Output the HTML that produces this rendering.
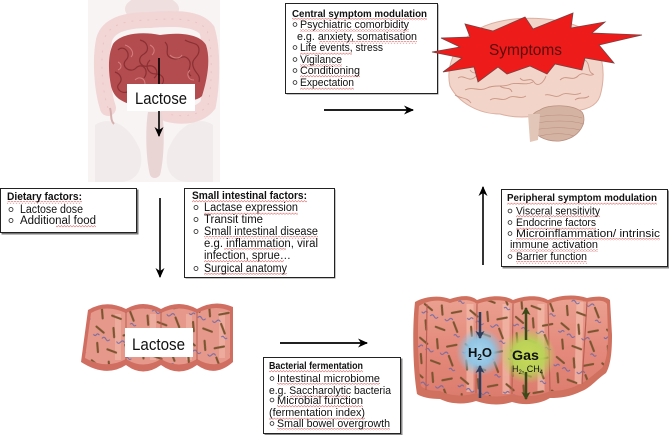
<!DOCTYPE html>
<html><head><meta charset="utf-8"><style>
html,body{margin:0;padding:0;background:#fff;}
svg{display:block;}
text{font-family:"Liberation Sans",Arial,sans-serif;fill:#111;}
</style></head><body>
<svg width="669" height="435" viewBox="0 0 669 435" xmlns="http://www.w3.org/2000/svg">
<defs>
<marker id="ah" markerUnits="userSpaceOnUse" markerWidth="11" markerHeight="9" refX="9" refY="4.5" orient="auto">
<path d="M0,0 L10,4.5 L0,9 L3,4.5 z" fill="#000"/>
</marker>
<marker id="ahb" markerUnits="userSpaceOnUse" markerWidth="9" markerHeight="9" refX="7" refY="4.5" orient="auto">
<path d="M0,0 L8,4.5 L0,9 L2,4.5 z" fill="#2f3d5c"/>
</marker>
<marker id="ahg" markerUnits="userSpaceOnUse" markerWidth="9" markerHeight="9" refX="7" refY="4.5" orient="auto">
<path d="M0,0 L8,4.5 L0,9 L2,4.5 z" fill="#3c4a1a"/>
</marker>
<pattern id="wv" width="3" height="2.5" patternUnits="userSpaceOnUse">
<path d="M0,2 L1.5,0.5 L3,2" stroke="#e06a6a" stroke-width="0.6" fill="none"/>
</pattern>
<pattern id="bac" width="46" height="34" patternUnits="userSpaceOnUse" patternTransform="rotate(8)">
<g stroke="#7a5530" stroke-width="2.1" stroke-linecap="round">
<line x1="3" y1="4" x2="11" y2="9"/>
<line x1="20" y1="3" x2="22" y2="12"/>
<line x1="31" y1="9" x2="40" y2="6"/>
<line x1="6" y1="20" x2="8" y2="29"/>
<line x1="17" y1="25" x2="26" y2="27"/>
<line x1="34" y1="18" x2="39" y2="27"/>
</g>
<g stroke="#6a68a6" stroke-width="1" fill="none">
<path d="M10 15 q2 -3 4 0 t4 0"/>
<path d="M25 16 q2 3 4 0 t4 0"/>
<path d="M36 31 q1.5 -2 3 0 t3 0"/>
<path d="M1 12 q2 2 3 0 t3 0"/>
</g>
</pattern>
<radialGradient id="gb"><stop offset="0" stop-color="#a6d6f0"/><stop offset="0.55" stop-color="#8ec6e6" stop-opacity="0.95"/><stop offset="1" stop-color="#8ec6e6" stop-opacity="0"/></radialGradient>
<radialGradient id="gg"><stop offset="0" stop-color="#c8dc58"/><stop offset="0.55" stop-color="#b8d456" stop-opacity="0.95"/><stop offset="1" stop-color="#b8d456" stop-opacity="0"/></radialGradient>
<linearGradient id="colTop" x1="0" y1="0" x2="0" y2="1"><stop offset="0" stop-color="#eba090"/><stop offset="0.5" stop-color="#e48a7c"/><stop offset="1" stop-color="#dc7c6e"/></linearGradient>
</defs>

<!-- ===== Anatomy (top-left) ===== -->
<rect x="88" y="0" width="132" height="182" fill="#f8f4f4"/>
<path d="M95,125 C110,115 130,125 140,150 C145,170 135,182 120,182 L95,182 Z" fill="#f1ebeb"/>
<path d="M213,125 C198,115 178,125 168,150 C163,170 173,182 188,182 L213,182 Z" fill="#f1ebeb"/>
<ellipse cx="152" cy="9" rx="27" ry="14" fill="#efdfdf"/>
<path d="M108,108 C102,90 100,60 104,40 C108,25 125,20 150,20 C175,18 198,18 207,30 C213,50 212,85 208,105 C200,115 185,118 168,114" fill="none" stroke="#f2d6d6" stroke-width="16" stroke-linecap="round"/>
<path d="M108,108 C102,90 100,60 104,40 C108,25 125,20 150,20 C175,18 198,18 207,30 C213,50 212,85 208,105 C200,115 185,118 168,114" fill="none" stroke="#e8c4c4" stroke-width="1" stroke-dasharray="2 6"/>
<path d="M110,108 C112,115 110,120 114,124" fill="none" stroke="#d7b0b0" stroke-width="2"/>
<path d="M148,112 L162,112 C165,130 164,160 160,175 C157,179 152,179 150,175 C146,160 145,130 148,112 Z" fill="#ead5d5"/>
<path d="M113,44 C120,34 140,31 160,35 C180,32 200,34 206,45 C211,60 207,80 202,96 C196,102 186,99 180,104 L132,105 C121,101 114,98 111,86 C108,70 108,55 113,44 Z" fill="#b24c4e"/>
<g fill="none" stroke="#8a3034" stroke-width="1.2">
<path d="M118,50 c6,-6 14,4 8,10 c-6,6 4,14 10,8 c6,-6 14,2 8,10"/>
<path d="M140,40 c8,2 10,10 4,14 c-8,4 -4,14 4,12 c8,-2 12,8 6,12"/>
<path d="M165,42 c6,6 -2,12 6,16 c8,4 12,-6 18,2 c4,6 -4,12 2,16"/>
<path d="M185,40 c6,4 14,2 14,10 c0,8 -8,8 -6,16 c2,8 8,8 6,16"/>
<path d="M115,72 c6,2 8,8 4,12 c-4,4 2,10 8,8"/>
<path d="M150,60 c-6,6 -2,14 6,14 c8,0 10,8 4,12"/>
</g>
<g fill="none" stroke="#d47c7e" stroke-width="1">
<path d="M125,45 c6,2 10,8 6,12"/>
<path d="M170,55 c4,4 10,4 12,0"/>
<path d="M135,80 c4,-4 10,-2 10,4"/>
<path d="M190,70 c-4,4 -2,10 4,10"/>
<path d="M150,45 c4,2 6,6 2,10"/>
<path d="M118,62 c4,2 4,6 0,8"/>
</g>
<line x1="159" y1="58" x2="159" y2="136" stroke="#000" stroke-width="1.6" marker-end="url(#ah)"/>
<rect x="127" y="84" width="68" height="27" fill="#fff"/>
<text x="135" y="104" font-size="17" textLength="52" lengthAdjust="spacingAndGlyphs">Lactose</text>

<!-- ===== Central box ===== -->
<rect x="286.5" y="4.5" width="152" height="90" fill="#888"/>
<rect x="285.5" y="3.5" width="152" height="90" fill="#fff" stroke="#222" stroke-width="1"/>
<g fill="url(#wv)">
<rect x="292" y="18" width="135" height="2.5"/>
<rect x="300" y="29" width="109" height="2.5"/>
<rect x="319" y="41" width="98" height="2.5"/>
<rect x="300" y="52" width="52" height="2.5"/>
<rect x="300" y="64" width="42" height="2.5"/>
<rect x="300" y="75" width="60" height="2.5"/>
<rect x="300" y="87" width="54" height="2.5"/>
</g>
<text x="292" y="17" font-size="10.5" font-weight="bold" textLength="135" lengthAdjust="spacingAndGlyphs">Central symptom modulation</text>
<g fill="none" stroke="#222" stroke-width="0.8">
<circle cx="295" cy="24.5" r="1.9"/><circle cx="295" cy="47.5" r="1.9"/><circle cx="295" cy="59.5" r="1.9"/><circle cx="295" cy="70.5" r="1.9"/><circle cx="295" cy="82.5" r="1.9"/>
</g>
<g font-size="11">
<text x="300" y="28" textLength="109" lengthAdjust="spacingAndGlyphs">Psychiatric comorbidity</text>
<text x="297" y="40" textLength="120" lengthAdjust="spacingAndGlyphs">e.g. anxiety, somatisation</text>
<text x="300" y="51" textLength="83" lengthAdjust="spacingAndGlyphs">Life events, stress</text>
<text x="300" y="63" textLength="42" lengthAdjust="spacingAndGlyphs">Vigilance</text>
<text x="300" y="74" textLength="60" lengthAdjust="spacingAndGlyphs">Conditioning</text>
<text x="300" y="86" textLength="54" lengthAdjust="spacingAndGlyphs">Expectation</text>
</g>
<line x1="324" y1="110" x2="413" y2="110" stroke="#000" stroke-width="1.8" marker-end="url(#ah)"/>

<!-- ===== Brain + Symptoms ===== -->
<path d="M450,86 C444,60 462,30 497,22 C525,15 565,18 585,30 C602,44 607,72 600,96 C596,108 582,112 562,111 C540,116 520,120 500,114 C478,114 458,102 450,86 Z" fill="#f2d5c8" stroke="#dcaea0" stroke-width="1"/>
<path d="M540,110 C548,104 572,104 582,112 C588,122 580,138 560,141 C545,142 533,135 530,124 C530,116 534,112 540,110 Z" fill="#d5b3a3" stroke="#b89080" stroke-width="0.8"/>
<g fill="none" stroke="#b48c7c" stroke-width="0.6">
<path d="M534,118 C550,114 570,114 582,118"/><path d="M532,124 C550,120 570,120 584,124"/><path d="M534,130 C550,127 568,127 580,130"/><path d="M540,136 C552,133 565,133 574,136"/>
</g>
<path d="M528,114 L540,114 L538,140 L530,142 Z" fill="#e2c6b8"/>
<g fill="none" stroke="#c99585" stroke-width="0.9">
<path d="M465,90 c8,-4 14,2 22,-2 c8,-4 16,0 24,-4 c8,-2 14,2 22,-2"/>
<path d="M458,78 c6,-4 10,4 16,0 c6,-4 4,-10 10,-10"/>
<path d="M490,100 c6,-4 12,2 18,-2 c6,-4 12,2 18,-2"/>
<path d="M470,70 c4,6 12,2 14,-6 c2,-6 10,-4 10,2"/>
<path d="M560,80 c6,-6 12,2 18,-4 c6,-6 10,2 16,-2"/>
<path d="M545,95 c6,-2 10,4 16,0 c6,-4 12,2 20,-2"/>
<path d="M520,78 c4,6 10,-2 14,4 c4,6 10,0 12,-6"/>
<path d="M585,60 c6,4 2,12 8,14"/>
<path d="M455,95 c6,4 12,2 16,8"/>
<path d="M500,86 c4,4 10,0 12,6"/>
<path d="M575,100 c4,-4 10,0 14,-4"/>
</g>
<polygon points="432,52 460,47 441,38 470,37 465,24 493,31 525,17 533,29 573,13 571,28 605,22 592,33 642,35 599,45 614,63 585,58 582,70 555,64 547,74 530,66 507,74 498,67 478,82 474,67 443,72 462,58" fill="#ee1b1b" stroke="#7a4040" stroke-width="0.8"/>
<text x="489" y="55" font-size="16" style="fill:#5a0c0c" textLength="73" lengthAdjust="spacingAndGlyphs">Symptoms</text>

<!-- ===== Dietary box ===== -->
<rect x="1.5" y="189.5" width="137" height="45" fill="#777"/>
<rect x="0.5" y="188.5" width="136" height="44" fill="#fff" stroke="#222" stroke-width="1"/>
<g fill="url(#wv)">
<rect x="7" y="201" width="75" height="2.5"/>
<rect x="56" y="225" width="40" height="2.5"/>
</g>
<text x="7" y="200" font-size="11" font-weight="bold" textLength="75" lengthAdjust="spacingAndGlyphs">Dietary factors:</text>
<g fill="none" stroke="#222" stroke-width="0.8"><circle cx="11" cy="209.5" r="2"/><circle cx="11" cy="220.5" r="2"/></g>
<text x="20" y="213" font-size="11.5" textLength="63" lengthAdjust="spacingAndGlyphs">Lactose dose</text>
<text x="20" y="224" font-size="11.5" textLength="76" lengthAdjust="spacingAndGlyphs">Additional food</text>

<line x1="160" y1="198" x2="160" y2="277" stroke="#000" stroke-width="1.6" marker-end="url(#ah)"/>

<!-- ===== Small intestinal box ===== -->
<rect x="185.5" y="189.5" width="150" height="89" fill="#888"/>
<rect x="184.5" y="188.5" width="150" height="89" fill="#fff" stroke="#222" stroke-width="1"/>
<g fill="url(#wv)">
<rect x="192" y="200" width="115" height="2.5"/>
<rect x="204" y="212" width="94" height="2.5"/>
<rect x="204" y="236" width="114" height="2.5"/>
<rect x="224" y="248" width="62" height="2.5"/>
<rect x="204" y="260" width="80" height="2.5"/>
<rect x="204" y="273" width="83" height="2.5"/>
</g>
<text x="192" y="199" font-size="11" font-weight="bold" textLength="115" lengthAdjust="spacingAndGlyphs">Small intestinal factors:</text>
<g fill="none" stroke="#222" stroke-width="0.8"><circle cx="196" cy="207.5" r="2"/><circle cx="196" cy="219.5" r="2"/><circle cx="196" cy="231.5" r="2"/><circle cx="196" cy="268.5" r="2"/></g>
<g font-size="11.5">
<text x="204" y="211" textLength="94" lengthAdjust="spacingAndGlyphs">Lactase expression</text>
<text x="204" y="223" textLength="59" lengthAdjust="spacingAndGlyphs">Transit time</text>
<text x="204" y="235" textLength="114" lengthAdjust="spacingAndGlyphs">Small intestinal disease</text>
<text x="204" y="247" textLength="114" lengthAdjust="spacingAndGlyphs">e.g. inflammation, viral</text>
<text x="204" y="259" textLength="87" lengthAdjust="spacingAndGlyphs">infection, sprue…</text>
<text x="204" y="272" textLength="83" lengthAdjust="spacingAndGlyphs">Surgical anatomy</text>
</g>

<!-- ===== Peripheral box ===== -->
<line x1="483" y1="265" x2="483" y2="187" stroke="#000" stroke-width="1.6" marker-end="url(#ah)"/>
<rect x="502.5" y="190.5" width="167" height="78" fill="#888"/>
<rect x="501.5" y="189.5" width="166" height="77" fill="#fff" stroke="#222" stroke-width="1"/>
<g fill="url(#wv)">
<rect x="507" y="202" width="150" height="2.5"/>
<rect x="516" y="215" width="84" height="2.5"/>
<rect x="516" y="227" width="80" height="2.5"/>
<rect x="516" y="238" width="144" height="2.5"/>
<rect x="510" y="249" width="88" height="2.5"/>
<rect x="516" y="261" width="71" height="2.5"/>
</g>
<text x="507" y="201" font-size="10.5" font-weight="bold" textLength="150" lengthAdjust="spacingAndGlyphs">Peripheral symptom modulation</text>
<g fill="none" stroke="#222" stroke-width="0.8"><circle cx="510" cy="211" r="1.9"/><circle cx="510" cy="222.5" r="1.9"/><circle cx="510" cy="233.5" r="1.9"/><circle cx="510" cy="256.5" r="1.9"/></g>
<g font-size="11">
<text x="516" y="214.5" textLength="84" lengthAdjust="spacingAndGlyphs">Visceral sensitivity</text>
<text x="516" y="226" textLength="80" lengthAdjust="spacingAndGlyphs">Endocrine factors</text>
<text x="516" y="237" textLength="144" lengthAdjust="spacingAndGlyphs">Microinflammation/ intrinsic</text>
<text x="510" y="248" textLength="88" lengthAdjust="spacingAndGlyphs">immune activation</text>
<text x="516" y="260" textLength="71" lengthAdjust="spacingAndGlyphs">Barrier function</text>
</g>

<!-- ===== Small intestine with lactose (bottom-left) ===== -->
<path d="M88,310 Q106,299 126,309 Q143,299 161,309 Q179,299 197,309 Q215,299 233,307 L233,362 Q215,378 197,365 Q179,378 161,365 Q143,378 126,365 Q106,378 81,362 Z" fill="#d06e62"/>
<path d="M91,313 Q106,304 126,313 Q143,304 161,313 Q179,304 197,313 Q215,304 230,311 L230,358 Q215,370 197,359 Q179,370 161,359 Q143,370 126,359 Q106,370 85,358 Z" fill="#e6988a"/>
<g fill="none" stroke="#f2b8aa" stroke-width="6" opacity="0.6">
<path d="M118,314 L118,360"/><path d="M153,314 L153,360"/><path d="M189,314 L189,360"/><path d="M222,312 L222,358"/>
</g>
<path d="M91,313 Q106,304 126,313 Q143,304 161,313 Q179,304 197,313 Q215,304 230,311 L230,358 Q215,370 197,359 Q179,370 161,359 Q143,370 126,359 Q106,370 85,358 Z" fill="url(#bac)"/>
<g fill="none" stroke="#b85e52" stroke-width="1">
<path d="M126,312 L126,360"/><path d="M161,312 L161,360"/><path d="M197,312 L197,360"/>
</g>
<rect x="125" y="328" width="68" height="29" fill="#fff"/>
<text x="132" y="350" font-size="17" textLength="53" lengthAdjust="spacingAndGlyphs">Lactose</text>

<line x1="280" y1="343" x2="367" y2="343" stroke="#000" stroke-width="1.8" marker-end="url(#ah)"/>

<!-- ===== Bacterial box ===== -->
<rect x="264.5" y="358.5" width="138" height="77" fill="#888"/>
<rect x="263.5" y="357.5" width="137" height="76" fill="#fff" stroke="#222" stroke-width="1"/>
<g fill="url(#wv)">
<rect x="269" y="370" width="94" height="2.5"/>
<rect x="277" y="383" width="103" height="2.5"/>
<rect x="290" y="395" width="58" height="2.5"/>
<rect x="277" y="405" width="86" height="2.5"/>
<rect x="269" y="417" width="96" height="2.5"/>
<rect x="277" y="428" width="113" height="2.5"/>
</g>
<text x="269" y="369" font-size="10.5" font-weight="bold" textLength="94" lengthAdjust="spacingAndGlyphs">Bacterial fermentation</text>
<g fill="none" stroke="#222" stroke-width="0.8"><circle cx="272" cy="378.5" r="1.9"/><circle cx="272" cy="400" r="1.9"/><circle cx="272" cy="423.5" r="1.9"/></g>
<g font-size="11">
<text x="277" y="382" textLength="103" lengthAdjust="spacingAndGlyphs">Intestinal microbiome</text>
<text x="269" y="394" textLength="122" lengthAdjust="spacingAndGlyphs">e.g. Saccharolytic bacteria</text>
<text x="277" y="404" textLength="86" lengthAdjust="spacingAndGlyphs">Microbial function</text>
<text x="269" y="416" textLength="96" lengthAdjust="spacingAndGlyphs">(fermentation index)</text>
<text x="277" y="427" textLength="113" lengthAdjust="spacingAndGlyphs">Small bowel overgrowth</text>
</g>

<!-- ===== Colon with gas (bottom-right) ===== -->
<path d="M415,302 C425,296 440,295 450,299 C462,295 471,295 477,300 C490,295 505,295 513,300 C525,295 540,295 548,300 C560,295 575,294 587,298 C597,296 605,296 610,300 L612,335 C612,355 610,366 606,373 C596,380 590,388 582,391 C570,397 560,398 550,398 C540,404 525,406 512,402 C500,406 488,405 476,401 C464,405 450,404 440,399 C430,399 421,397 417,394 C413,370 412,330 415,302 Z" fill="#d0705f"/>
<path d="M419,306 C428,300 440,299 450,303 C462,299 471,299 477,304 C490,299 505,299 513,304 C525,299 540,299 548,304 C560,299 575,298 587,302 C597,300 604,300 607,304 L608,335 C608,352 606,362 602,368 C593,375 586,382 578,385 C568,390 558,391 550,391 C540,396 525,398 512,394 C500,398 488,397 476,393 C464,397 450,396 440,391 C430,391 424,389 421,386 C418,365 417,330 419,306 Z" fill="url(#colTop)"/>
<g fill="none" stroke="#f4bcac" stroke-width="7" opacity="0.7">
<path d="M470,304 L470,392"/><path d="M506,304 L506,394"/><path d="M541,304 L541,391"/><path d="M580,302 L578,384"/>
</g>
<path d="M419,306 C428,300 440,299 450,303 C462,299 471,299 477,304 C490,299 505,299 513,304 C525,299 540,299 548,304 C560,299 575,298 587,302 C597,300 604,300 607,304 L608,335 C608,352 606,362 602,368 C593,375 586,382 578,385 C568,390 558,391 550,391 C540,396 525,398 512,394 C500,398 488,397 476,393 C464,397 450,396 440,391 C430,391 424,389 421,386 C418,365 417,330 419,306 Z" fill="url(#bac)"/>
<g fill="none" stroke="#b85e52" stroke-width="1.1">
<path d="M477,304 L476,393"/><path d="M513,304 L512,394"/><path d="M548,304 L550,391"/><path d="M587,302 L582,384"/><path d="M427,304 L426,390"/>
</g>
<circle cx="480" cy="352" r="24" fill="url(#gb)"/>
<circle cx="528" cy="356" r="28" fill="url(#gg)"/>
<line x1="480" y1="312" x2="480" y2="338" stroke="#2f3d5c" stroke-width="2.5" marker-end="url(#ahb)"/>
<line x1="480" y1="398" x2="480" y2="366" stroke="#2f3d5c" stroke-width="2.5" marker-end="url(#ahb)"/>
<line x1="526" y1="340" x2="526" y2="308" stroke="#3c4a1a" stroke-width="2.5" marker-end="url(#ahg)"/>
<line x1="526" y1="372" x2="526" y2="399" stroke="#3c4a1a" stroke-width="2.5" marker-end="url(#ahg)"/>
<text x="468" y="357" font-size="13" font-weight="bold" fill="#1a1a1a">H<tspan font-size="8" dy="3">2</tspan><tspan dy="-3">O</tspan></text>
<text x="512" y="360" font-size="14" font-weight="bold" textLength="27" lengthAdjust="spacingAndGlyphs">Gas</text>
<text x="512" y="372" font-size="9" textLength="31" lengthAdjust="spacingAndGlyphs">H<tspan font-size="6" dy="2">2</tspan><tspan dy="-2">, CH</tspan><tspan font-size="6" dy="2">4</tspan></text>
</svg>
</body></html>
